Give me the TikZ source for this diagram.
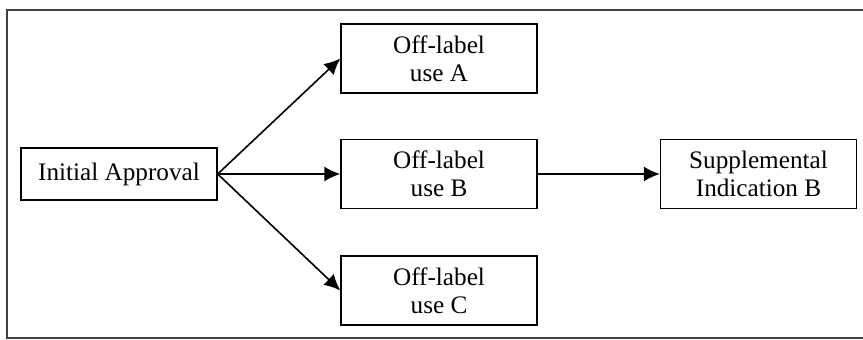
\documentclass[tikz,border=0pt]{standalone}
\usepackage{fontspec}
\setmainfont{Liberation Serif}
\usetikzlibrary{arrows.meta}
\begin{document}
\begin{tikzpicture}[x=0.5pt, y=-0.5pt,
    every node/.style={draw, line width=0.7pt, align=center, font=\fontsize{12.6}{14}\selectfont, minimum width=98pt, minimum height=34.5pt, inner sep=0pt},
    arr/.style={line width=0.8pt, -{Latex[length=8pt, width=7.5pt]}}]
    \useasboundingbox (0,0) rectangle (863,339);
    % Open frame
    \draw[line width=1pt, black!75] (863,10) -- (7,10) -- (7,338) -- (863,338);

    % Starting point
    \node[minimum height=26pt] (init) at (119,174) {Initial Approval};

    % Off-label uses
    \node (useA) at (439,58.5) {Off-label\\use A};
    \node (useB) at (439,174) {Off-label\\use B};
    \node (useC) at (439,290.5) {Off-label\\use C};

    % Supplemental indication
    \node (suppB) at (758.5,174) {Supplemental\\Indication B};

    % Arrows
    \draw[arr] (init.east) -- (useA.west);
    \draw[arr] (init.east) -- (useB.west);
    \draw[arr] (init.east) -- (useC.west);
    \draw[arr] (useB.east) -- (suppB.west);
\end{tikzpicture}
\end{document}
